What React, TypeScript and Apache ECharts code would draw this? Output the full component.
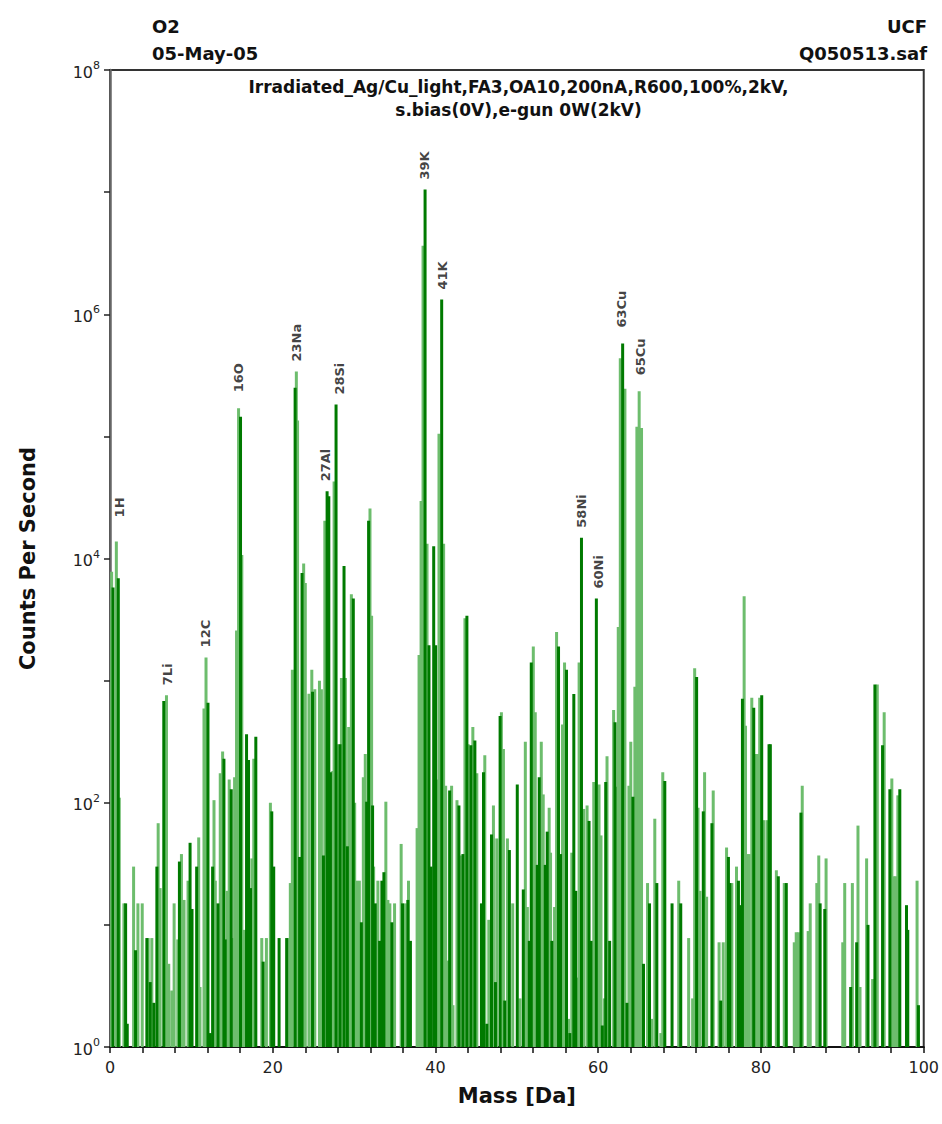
import React, { useEffect, useRef } from "react";
import * as echarts from "echarts";

// Mass [Da] and counts per second of the dark-green histogram bars
const darkMass = [
  0.37, 1.02, 1.92, 2.12, 3.14, 4.53, 4.94, 5.39, 5.76, 6.61, 8.53, 9.84, 10.08, 10.65,
  12.04, 12.33, 12.61, 13.27, 14.0, 14.16, 14.9, 16.04, 16.78, 17.02, 17.27, 17.92, 18.82,
  19.88, 20.12, 20.78, 21.71, 22.75, 23.3, 23.6, 24.89, 26.23, 26.68, 26.89, 27.09, 27.78,
  28.27, 28.76, 29.17, 29.9, 30.89, 31.54, 31.78, 32.27, 32.6, 33.13, 33.41, 33.66, 34.64,
  35.95, 36.6, 36.92, 38.72, 39.2, 39.45, 39.78, 40.02, 40.76, 41.74, 42.88, 43.37, 43.86,
  44.35, 44.84, 45.65, 45.9, 46.31, 46.88, 47.37, 47.94, 48.51, 49.08, 50.05, 50.79, 51.53,
  51.77, 52.51, 52.75, 53.49, 53.73, 54.3, 55.12, 55.37, 56.1, 56.51, 57.0, 57.24, 57.94,
  58.87, 59.12, 59.77, 60.5, 60.92, 61.4, 62.06, 63.0, 63.53, 64.26, 65.56, 66.3, 67.2,
  68.18, 69.07, 70.14, 72.09, 72.91, 73.97, 75.05, 76.0, 76.17, 77.23, 77.48, 77.72, 79.11,
  80.09, 80.99, 81.15, 82.13, 83.11, 84.91, 87.27, 87.84, 91.02, 91.76, 93.15, 94.0, 94.94,
  95.84, 97.06, 97.88, 98.04, 99.35,
];
const darkCounts = [
  5800, 6900, 15, 1.55, 6.2, 7.8, 3.4, 2.3, 30, 680, 33, 47, 13.5, 30,
  660, 1.3, 30, 15, 229, 7.6, 129, 145000, 363, 224, 20, 347, 5,
  85, 30, 7.8, 7.8, 250000, 36, 7600, 810, 37, 35500, 32400, 178, 182000,
  302, 8700, 44, 4700, 10.5, 102, 20400, 95, 15, 7.4, 23, 27, 10.5,
  15, 16, 7.4, 10500000, 1950, 30, 12600, 1950, 1320000, 126, 95, 38, 3400,
  295, 324, 15, 178, 1.55, 55, 3.4, 513, 2.4, 41, 141, 19.5, 7.4,
  1410, 31, 162, 31, 58, 7.4, 1900, 38, 1230, 1.3, 776, 19, 14800,
  71, 7.4, 4700, 1.5, 148, 7.4, 457, 575000, 2.3, 112, 4.8, 15, 22,
  151, 15, 15, 1070, 85, 68, 2.4, 36, 22, 23, 14.5, 710, 600,
  760, 302, 302, 25, 22, 83, 15, 13.5, 3.1, 7.2, 10, 930, 295,
  129, 129, 14.5, 9.1, 2.2,
];

// Mass [Da] and counts per second of the light-green histogram bars
const lightMass = [
  0.2, 0.78, 1.14, 1.71, 2.9, 3.43, 3.96, 4.69, 5.14, 5.92, 6.16, 6.94, 7.22, 7.59, 7.88,
  8.33, 8.78, 9.1, 9.59, 10.9, 11.06, 11.55, 11.8, 12.78, 12.94, 13.55, 13.84, 14.41, 14.65,
  15.14, 15.31, 15.55, 15.8, 16.2, 16.53, 17.43, 17.67, 18.65, 19.22, 19.71, 21.96, 22.16,
  22.41, 22.9, 23.05, 23.8, 24.0, 24.45, 24.8, 25.17, 25.74, 25.98, 26.4, 27.38, 27.54,
  28.03, 28.44, 28.93, 29.33, 29.66, 30.07, 30.31, 30.64, 31.13, 31.37, 31.95, 32.15, 32.4,
  32.92, 33.9, 34.15, 34.39, 34.97, 35.78, 36.27, 36.68, 37.74, 37.98, 38.23, 38.47, 38.96,
  40.27, 40.43, 41.0, 41.25, 41.57, 41.98, 42.15, 42.64, 43.05, 43.62, 44.02, 44.59, 45.08,
  46.06, 46.55, 47.12, 47.53, 48.1, 48.35, 48.84, 49.49, 50.38, 51.04, 51.29, 52.02, 52.26,
  53.0, 53.24, 53.97, 54.14, 54.63, 54.88, 55.61, 55.86, 56.35, 56.75, 57.41, 57.65, 58.22,
  58.63, 59.45, 60.1, 60.34, 60.75, 61.08, 61.89, 62.3, 62.46, 62.71, 63.28, 63.77, 64.0,
  64.5, 64.75, 65.03, 65.32, 66.06, 66.55, 66.95, 67.69, 67.93, 69.89, 71.11, 71.6, 71.85,
  72.26, 72.5, 73.07, 73.32, 74.13, 74.85, 75.36, 75.77, 76.42, 76.99, 77.93, 78.1, 78.29,
  78.54, 78.87, 79.35, 79.6, 79.84, 80.33, 80.74, 81.89, 82.86, 84.09, 84.33, 84.58, 85.07,
  85.8, 86.05, 86.86, 87.1, 88.0, 90.05, 90.29, 91.23, 91.92, 92.17, 92.98, 93.72, 94.29,
  95.14, 96.08, 96.33, 96.57, 96.82, 99.18,
];
const lightCounts = [
  7800, 13800, 110, 15, 30, 15, 15, 7.8, 7.8, 68, 20, 760, 4.8, 2.9, 15,
  7.6, 38, 16, 23, 52, 3.1, 590, 1550, 105, 23, 174, 263, 19, 155,
  7.8, 162, 2570, 170000, 10700, 9.1, 35, 229, 7.8, 7.8, 100, 7.8, 22,
  1230, 340000, 135000, 9100, 6300, 780, 1230, 850, 1000, 850, 20400, 182, 42700,
  302, 1050, 1050, 417, 5100, 100, 23, 23, 162, 251, 25700, 3400, 30,
  23, 102, 16, 15, 15, 46, 15, 23, 62, 1620, 29500, 3630000, 13200,
  155, 105000, 13200, 138, 5.1, 138, 2.2, 105, 37, 3240, 302, 417, 174,
  245, 11, 95, 51, 550, 275, 51, 15, 2.5, 316, 14, 1900, 550,
  316, 117, 91, 39, 14, 2500, 437, 1410, 1.7, 39, 3.7, 1410, 89,
  95, 148, 141, 54, 2.5, 240, 575, 135, 2750, 437000, 245000, 138, 316,
  890, 120000, 234000, 117000, 22, 1.7, 74, 1.3, 178, 23, 7.8, 2.5, 1260,
  91, 19, 178, 17, 126, 7.2, 7.2, 43, 22, 30, 4900, 427, 38,
  38, 724, 251, 251, 724, 72, 72, 28, 22, 7.2, 8.7, 8.7, 138,
  8.9, 15, 22, 37, 35, 7.2, 22, 22, 65, 3.1, 35, 3.6, 930,
  550, 158, 25, 25, 115, 23,
];

// Isotope peak annotations
const peakNames = ["1H", "7Li", "12C", "16O", "23Na", "27Al", "28Si", "39K", "41K", "58Ni", "60Ni", "63Cu", "65Cu"];
const peakMass = [1.2, 7.1, 11.75, 15.8, 22.9, 26.45, 28.15, 38.7, 40.9, 57.9, 60.0, 62.9, 65.25];
const peakCounts = [13800, 760, 1550, 170000, 340000, 35500, 182000, 10500000, 1320000, 14800, 4700, 575000, 234000];

const xLabelValues = [0, 20, 40, 60, 80, 100];
const yLabelExponents = [0, 2, 4, 6, 8];

const headerLeft = ["O2", "05-May-05"];
const headerRight = ["UCF", "Q050513.saf"];
const plotTitle = ["Irradiated_Ag/Cu_light,FA3,OA10,200nA,R600,100%,2kV,", "s.bias(0V),e-gun 0W(2kV)"];

const FONT = "DejaVu Sans";

export default function App() {
  const ref = useRef<HTMLDivElement>(null);

  useEffect(() => {
    if (!ref.current) return;
    const chart = echarts.init(ref.current, null, { renderer: "svg" });

    const darkData = darkMass.map((m, i) => [m, darkCounts[i]]);
    const lightData = lightMass.map((m, i) => [m, lightCounts[i]]);
    const labelData = peakNames.map((n, i) => ({
      name: n,
      value: [peakMass[i], peakCounts[i]],
      label: { distance: n === "1H" ? 24 : n === "16O" || n === "63Cu" || n === "65Cu" ? 16 : 10 },
    }));

    const option: any = {
      animation: false,
      backgroundColor: "#ffffff",
      grid: {
        left: 110,
        right: 15,
        top: 70,
        bottom: 77,
        show: true,
        borderColor: "#333",
        borderWidth: 2,
        backgroundColor: "transparent",
      },
      xAxis: {
        type: "value",
        min: 0,
        max: 100,
        interval: 4,
        name: "Mass [Da]",
        nameLocation: "middle",
        nameGap: 38,
        nameTextStyle: { fontFamily: FONT, fontWeight: "bold", fontSize: 21, color: "#111" },
        axisLine: { show: true, lineStyle: { color: "#111", width: 2 } },
        axisTick: { show: true, length: 6, lineStyle: { color: "#111", width: 1.5 } },
        axisLabel: {
          margin: 12,
          fontFamily: FONT,
          fontSize: 16,
          color: "#222",
          formatter: (v: number) => (xLabelValues.includes(Math.round(v)) ? String(Math.round(v)) : ""),
        },
        splitLine: { show: false },
      },
      yAxis: {
        type: "log",
        logBase: 10,
        min: 1,
        max: 1e8,
        interval: 1,
        name: "Counts Per Second",
        nameLocation: "middle",
        nameGap: 72,
        nameTextStyle: { fontFamily: FONT, fontWeight: "bold", fontSize: 21, color: "#111" },
        axisLine: { show: true, lineStyle: { color: "#666", width: 2.5 } },
        axisTick: { show: true, length: 6, lineStyle: { color: "#222", width: 1.5 } },
        axisLabel: {
          margin: 10,
          formatter: (v: number) => {
            const e = Math.round(Math.log10(v));
            return yLabelExponents.includes(e) ? `{b|10}{s|${e}}` : "";
          },
          rich: {
            b: { fontFamily: FONT, fontSize: 16, color: "#222", verticalAlign: "bottom" },
            s: { fontFamily: FONT, fontSize: 11, color: "#222", verticalAlign: "bottom", padding: [0, 0, 9, 0] },
          },
        },
        splitLine: { show: false },
      },
      series: [
        {
          type: "bar",
          name: "light",
          data: lightData,
          barWidth: 3,
          barGap: "-100%",
          itemStyle: { color: "#6dbd6d" },
          silent: true,
        },
        {
          type: "bar",
          name: "dark",
          data: darkData,
          barWidth: 3,
          barGap: "-100%",
          itemStyle: { color: "#007a00" },
          silent: true,
        },
        {
          type: "scatter",
          name: "peaks",
          data: labelData,
          symbolSize: 0,
          silent: true,
          label: {
            show: true,
            formatter: (p: any) => p.name,
            position: "top",
            rotate: 90,
            align: "left",
            verticalAlign: "middle",
            fontFamily: FONT,
            fontSize: 13,
            fontWeight: "bold",
            color: "#111",
          },
        },
      ],
      graphic: [
        { type: "text", left: 152, top: 17, style: { text: headerLeft[0], font: `bold 18px "${FONT}"`, fill: "#111" } },
        { type: "text", left: 152, top: 44, style: { text: headerLeft[1], font: `bold 18px "${FONT}"`, fill: "#111" } },
        { type: "text", right: 15, top: 17, style: { text: headerRight[0], font: `bold 18px "${FONT}"`, fill: "#111" } },
        { type: "text", right: 15, top: 44, style: { text: headerRight[1], font: `bold 18px "${FONT}"`, fill: "#111" } },
        {
          type: "text",
          x: 518.5,
          y: 78,
          style: { text: plotTitle[0], font: `bold 17px "${FONT}"`, fill: "#111", align: "center", verticalAlign: "top" },
        },
        {
          type: "text",
          x: 518.5,
          y: 101,
          style: { text: plotTitle[1], font: `bold 17px "${FONT}"`, fill: "#111", align: "center", verticalAlign: "top" },
        },
      ],
    };

    chart.setOption(option);
    return () => chart.dispose();
  }, []);

  return <div ref={ref} style={{ position: "absolute", left: 0, top: 0, width: 942, height: 1124 }} />;
}
